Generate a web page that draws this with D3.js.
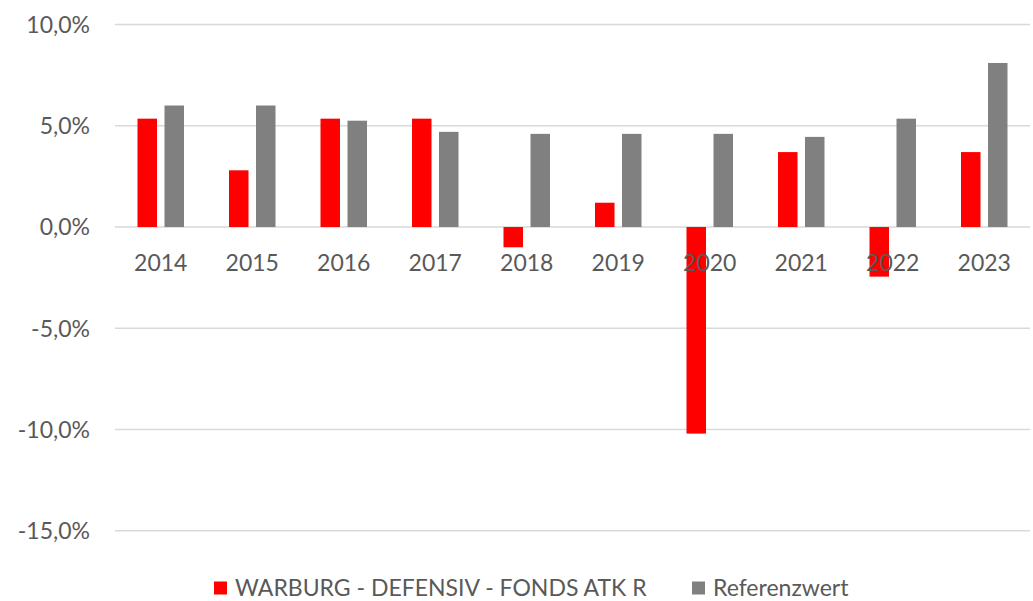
<!DOCTYPE html>
<html><head><meta charset="utf-8">
<script src="https://cdn.jsdelivr.net/npm/d3@7"></script>
<style>body{margin:0;background:#fff}svg{display:block}text{font-family:Lato,"Open Sans",sans-serif;fill:#595959}</style>
</head><body><svg id="c" width="1033" height="601"></svg>
<script>
const years = ["2014","2015","2016","2017","2018","2019","2020","2021","2022","2023"];
const fund = [5.35, 2.8, 5.35, 5.35, -1.0, 1.2, -10.2, 3.7, -2.45, 3.7];
const bench = [6.0, 6.0, 5.25, 4.7, 4.6, 4.6, 4.6, 4.45, 5.35, 8.1];
const seriesNames = ["WARBURG - DEFENSIV - FONDS ATK R", "Referenzwert"];
const colors = ["#ff0000", "#808080"];
const yTicks = [10, 5, 0, -5, -10, -15];

const svg = d3.select("#c");
const x0 = d3.scaleBand().domain(years).range([115, 1030]);
const y = d3.scaleLinear().domain([-15, 10]).range([530.8, 24.5]);
const fmt = v => d3.format(".1f")(v).replace(".", ",").replace("\u2212", "-") + "%";

svg.append("g").selectAll("line").data(yTicks).join("line")
  .attr("x1", 115).attr("x2", 1030)
  .attr("y1", d => y(d)).attr("y2", d => y(d))
  .attr("stroke", "#d9d9d9").attr("stroke-width", 1.5);

svg.append("g").selectAll("text").data(yTicks).join("text")
  .attr("x", 90).attr("y", d => y(d)).attr("dy", "0.36em")
  .attr("text-anchor", "end").attr("font-size", 23).text(fmt);

const bw = 19.5, gap = 7.5;
const data = years.map((yr, i) => ({yr, vals: [fund[i], bench[i]]}));
const g = svg.append("g");
data.forEach(d => {
  const c = x0(d.yr) + x0.bandwidth() / 2;
  d.vals.forEach((v, k) => {
    const xs = k === 0 ? c - gap / 2 - bw : c + gap / 2;
    g.append("rect").attr("x", xs).attr("width", bw)
      .attr("y", y(Math.max(0, v))).attr("height", Math.abs(y(v) - y(0)))
      .attr("fill", colors[k]);
  });
});

svg.append("g").selectAll("text").data(years).join("text")
  .attr("x", d => x0(d) + x0.bandwidth() / 2).attr("y", 271)
  .attr("text-anchor", "middle").attr("font-size", 23).text(d => d);

const leg = [{x: 214, t: seriesNames[0], c: colors[0]}, {x: 692, t: seriesNames[1], c: colors[1]}];
leg.forEach(l => {
  svg.append("rect").attr("x", l.x).attr("y", 581.5).attr("width", 13).attr("height", 13).attr("fill", l.c);
  svg.append("text").attr("x", l.x + 21).attr("y", 596).attr("font-size", 23).text(l.t);
});
</script></body></html>
